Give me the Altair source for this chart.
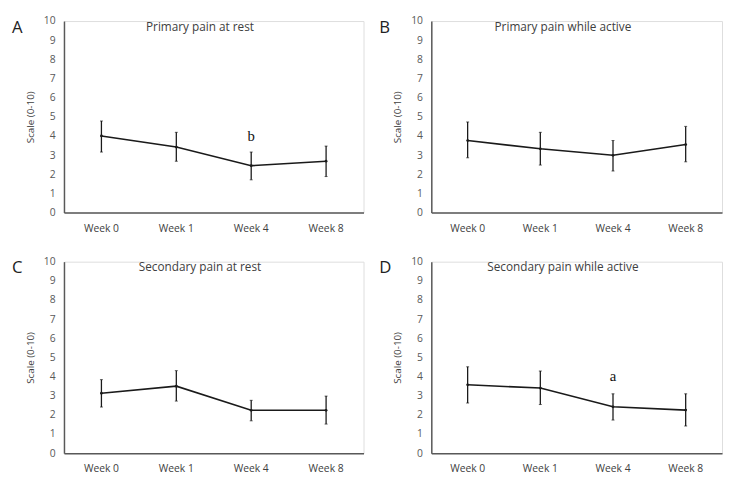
import altair as alt
import pandas as pd

weeks = ["Week 0", "Week 1", "Week 4", "Week 8"]

titles = ["Primary pain at rest", "Primary pain while active",
          "Secondary pain at rest", "Secondary pain while active"]
letters = ["A", "B", "C", "D"]
y_ticks = [0, 1, 2, 3, 4, 5, 6, 7, 8, 9, 10]

mean_a = [4.0, 3.42, 2.45, 2.68]
low_a = [3.16, 2.68, 1.71, 1.88]
high_a = [4.78, 4.19, 3.16, 3.47]

mean_b = [3.76, 3.33, 2.99, 3.55]
low_b = [2.86, 2.48, 2.17, 2.65]
high_b = [4.73, 4.19, 3.76, 4.50]

mean_c = [3.13, 3.50, 2.24, 2.24]
low_c = [2.41, 2.72, 1.69, 1.52]
high_c = [3.84, 4.31, 2.76, 2.98]

mean_d = [3.57, 3.40, 2.42, 2.25]
low_d = [2.62, 2.54, 1.73, 1.42]
high_d = [4.51, 4.29, 3.10, 3.10]

# significance annotations: (week, y position, label)
annot_a = ("Week 4", 4.0, "b")
annot_d = ("Week 4", 4.0, "a")

FONT = "Open Sans"
AXIS_COLOR = "#595959"


def panel(means, lows, highs, title, letter, width, annot=None):
    df = pd.DataFrame({"week": weeks, "mean": means, "low": lows, "high": highs})
    x_axis = alt.Axis(labelAngle=0, ticks=False, domainColor=AXIS_COLOR,
                      domainWidth=1.5, labelColor="#404040", labelFont=FONT,
                      labelFontSize=10.5, labelPadding=11, grid=False, title=None)
    y_axis = alt.Axis(values=y_ticks, tickCount=11, ticks=False, grid=False,
                      labelOverlap=False, labelFlush=False,
                      domainColor=AXIS_COLOR, domainWidth=1.5,
                      labelColor="#595959", labelFont=FONT, labelFontSize=10.5,
                      labelPadding=9, title="Scale (0-10)", titleFont=FONT,
                      titleFontSize=10, titleFontWeight="normal",
                      titleColor="#404040", titlePadding=8)
    x_scale = alt.Scale(paddingInner=0, paddingOuter=0)
    y_scale = alt.Scale(domain=[0, 10], nice=False)

    def X():
        return alt.X("week:N", sort=weeks, title=None, scale=x_scale, axis=x_axis)

    def Y(field):
        return alt.Y(field, title="Scale (0-10)", scale=y_scale, axis=y_axis)

    base = alt.Chart(df)
    line = base.mark_line(color="#1a1a1a", strokeWidth=1.6).encode(x=X(), y=Y("mean:Q"))
    pts = base.mark_point(filled=True, color="#1a1a1a", size=8, opacity=1).encode(
        x=X(), y=Y("mean:Q"))
    rule = base.mark_rule(color="#1a1a1a", strokeWidth=1.3).encode(
        x=X(), y=Y("low:Q"), y2="high:Q")
    cap_lo = base.mark_tick(color="#1a1a1a", size=3, thickness=1, orient="horizontal").encode(
        x=X(), y=Y("low:Q"))
    cap_hi = base.mark_tick(color="#1a1a1a", size=3, thickness=1, orient="horizontal").encode(
        x=X(), y=Y("high:Q"))
    ttl = alt.Chart(pd.DataFrame({"t": [title]})).mark_text(
        font=FONT, fontSize=12, color="#404040", align="center", baseline="middle"
    ).encode(x=alt.value(width / 2 - 14), y=alt.value(6), text="t:N")
    let = alt.Chart(pd.DataFrame({"t": [letter]})).mark_text(
        font=FONT, fontSize=17, color="#222222", align="left", baseline="middle"
    ).encode(x=alt.value(-53), y=alt.value(7), text="t:N")
    layers = [line, rule, cap_lo, cap_hi, pts, ttl, let]
    if annot is not None:
        adf = pd.DataFrame({"week": [annot[0]], "yv": [annot[1]], "lab": [annot[2]]})
        layers.append(alt.Chart(adf).mark_text(
            font="Liberation Serif", fontSize=15, color="#111111", baseline="middle"
        ).encode(x=X(), y=Y("yv:Q"), text="lab:N"))
    return alt.layer(*layers).properties(width=width, height=195)


pa = panel(mean_a, low_a, high_a, titles[0], letters[0], 305, annot_a)
pb = panel(mean_b, low_b, high_b, titles[1], letters[1], 296)
pc = panel(mean_c, low_c, high_c, titles[2], letters[2], 305)
pd_ = panel(mean_d, low_d, high_d, titles[3], letters[3], 296, annot_d)

top = alt.hconcat(pa, pb, spacing=14)
bottom = alt.hconcat(pc, pd_, spacing=14)
chart = alt.vconcat(top, bottom, spacing=22).properties(
    padding={"left": 3, "top": 3, "right": 0, "bottom": 0}
).configure_view(strokeOpacity=0).configure(background="white")

chart.save("out.html", embed_options={"renderer": "svg", "actions": False})
